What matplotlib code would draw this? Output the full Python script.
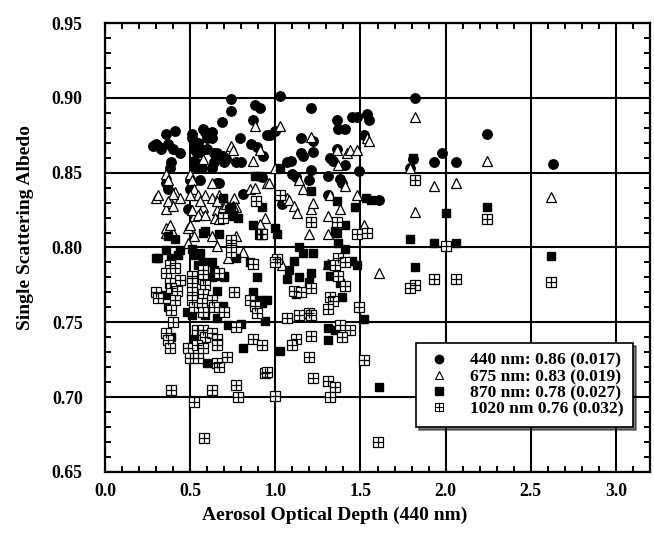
import numpy as np
import matplotlib
matplotlib.use("Agg")
import matplotlib.pyplot as plt
from matplotlib.ticker import MultipleLocator, FormatStrFormatter
from matplotlib.lines import Line2D

plt.rcParams['font.family'] = ['Liberation Serif', 'DejaVu Serif']
plt.rcParams['font.weight'] = 'bold'

# single scattering albedo vs. AOD(440) for each wavelength
pts440 = np.array([
    (0.28, .868), (0.30, .869), (0.31, .868), (0.33, .866), (0.36, .876), (0.41, .878), (0.37, .869),
    (0.40, .866), (0.44, .863), (0.39, .857), (0.38, .853), (0.36, .843), (0.37, .839), (0.51, .876),
    (0.51, .873), (0.52, .871), (0.545, .870), (0.575, .879), (0.59, .877), (0.60, .873), (0.63, .877),
    (0.63, .873), (0.52, .866), (0.54, .863), (0.57, .865), (0.60, .866), (0.64, .863), (0.66, .863),
    (0.69, .861), (0.69, .859), (0.70, .857), (0.71, .859), (0.52, .858), (0.53, .853), (0.56, .856),
    (0.57, .853), (0.63, .853), (0.64, .857), (0.686, .884), (0.74, .899), (0.74, .891), (0.79, .873),
    (0.77, .857), (0.80, .857), (0.56, .845), (0.50, .839), (0.50, .845), (0.66, .843), (0.67, .843),
    (0.49, .826), (0.81, .836), (0.87, .885), (0.88, .895), (0.91, .893), (0.86, .869), (0.89, .867),
    (0.93, .861), (0.95, .875), (0.92, .847), (0.97, .875), (1.00, .878), (1.03, .901), (1.04, .829),
    (1.07, .857), (1.09, .858), (1.10, .849), (1.12, .847), (1.15, .873), (1.15, .863), (1.16, .861),
    (1.20, .845), (1.21, .893), (1.21, .852), (1.22, .871), (1.22, .864), (1.31, .835), (1.31, .848),
    (1.32, .860), (1.34, .858), (1.365, .885), (1.365, .866), (1.37, .879), (1.38, .846), (1.39, .843),
    (1.41, .879), (1.41, .855), (1.45, .887), (1.48, .887), (1.49, .851), (1.52, .875), (1.54, .889),
    (1.55, .885), (1.61, .832), (1.79, .853), (1.81, .859), (1.82, .900), (1.93, .857), (1.98, .863),
    (2.06, .857), (2.24, .876), (2.63, .856),
])

pts675 = np.array([
    (0.30, .833), (0.36, .849), (0.37, .845), (0.41, .837), (0.44, .833), (0.39, .830), (0.36, .826),
    (0.50, .849), (0.51, .845), (0.52, .839), (0.545, .835), (0.59, .835), (0.63, .833), (0.63, .843),
    (0.575, .859), (0.74, .868), (0.75, .865), (0.76, .833), (0.85, .839), (0.88, .840), (0.88, .881),
    (0.91, .865), (0.87, .858), (0.95, .843), (0.575, .827), (0.56, .823), (0.52, .821), (0.66, .825),
    (0.69, .827), (0.77, .827), (0.94, .820), (0.49, .813), (0.36, .810), (0.40, .810), (0.52, .808),
    (0.63, .808), (0.77, .808), (0.91, .816), (0.49, .803), (0.66, .801), (0.81, .797), (0.72, .793),
    (0.31, .835), (0.40, .836), (0.50, .835), (0.67, .835), (0.37, .831), (0.40, .828), (0.56, .831),
    (0.66, .831), (0.71, .829), (0.51, .825), (0.545, .822), (0.59, .822), (0.645, .820), (0.67, .819),
    (0.50, .815), (0.36, .813), (0.38, .815), (0.75, .828),
    (0.96, .843), (1.00, .853), (1.03, .881), (1.07, .833), (1.08, .832), (1.11, .828), (1.13, .823),
    (1.14, .845), (1.16, .839), (1.21, .874), (1.21, .826), (1.22, .830), (1.31, .821), (1.32, .835),
    (1.36, .865), (1.37, .855), (1.38, .826), (1.41, .841), (1.42, .863), (1.44, .865), (1.48, .865),
    (1.48, .835), (1.52, .815), (1.54, .873), (1.55, .871), (1.20, .809), (1.31, .809), (1.04, .788),
    (1.31, .789), (1.61, .783), (1.79, .853), (1.82, .887), (1.82, .824), (1.93, .841), (2.06, .843),
    (2.24, .858), (2.62, .834),
])

pts870 = np.array([
    (0.30, .793), (0.36, .798), (0.39, .793), (0.43, .795), (0.44, .798), (0.51, .799), (0.53, .795),
    (0.56, .796), (0.575, .790), (0.63, .790), (0.64, .785), (0.63, .780), (0.77, .793), (0.85, .790),
    (0.89, .780), (0.70, .780), (0.36, .768), (0.37, .760), (0.39, .758), (0.48, .757), (0.51, .755),
    (0.575, .761), (0.59, .755), (0.66, .771), (0.69, .761), (0.87, .770), (0.91, .765), (0.80, .749),
    (0.72, .748), (0.66, .753), (0.39, .740), (0.52, .739), (0.81, .733), (0.60, .723), (0.575, .810),
    (0.67, .809), (0.37, .808), (0.41, .806), (0.69, .833), (0.74, .827), (0.75, .821), (0.92, .827),
    (0.87, .815), (0.88, .848), (0.91, .848), (0.59, .811), (0.73, .826), (0.78, .820), (0.545, .788),
    (0.645, .781), (0.70, .781), (0.31, .793),
    (1.00, .813), (1.01, .809), (1.03, .853), (1.21, .838), (1.36, .831), (1.47, .827), (1.41, .815),
    (1.35, .811), (1.36, .810), (1.53, .833), (1.56, .832), (1.81, .860), (1.79, .806), (1.37, .803),
    (1.41, .799), (1.14, .800), (1.16, .796), (1.22, .796), (1.11, .791), (1.45, .791), (1.48, .788),
    (1.08, .785), (1.07, .779), (1.14, .780), (1.21, .783), (1.20, .777), (1.31, .788), (1.32, .781),
    (1.38, .776), (1.12, .769), (0.95, .765), (0.92, .763), (1.39, .767), (0.94, .751), (1.52, .752),
    (1.31, .746), (1.35, .745), (1.31, .738), (1.03, .731), (1.61, .707), (1.82, .787), (1.93, .803),
    (2.00, .823), (2.06, .803), (2.24, .827), (2.62, .794),
])

pts1020 = np.array([
    (0.38, .788), (0.36, .783), (0.41, .786), (0.51, .781), (0.51, .776), (0.575, .785), (0.575, .779),
    (0.59, .775), (0.44, .778), (0.38, .776), (0.39, .773), (0.30, .770), (0.31, .766), (0.42, .771),
    (0.41, .765), (0.51, .770), (0.51, .765), (0.52, .760), (0.575, .769), (0.57, .763), (0.575, .757),
    (0.63, .765), (0.64, .760), (0.70, .757), (0.67, .783), (0.74, .803), (0.74, .797), (0.87, .789),
    (0.76, .770), (0.85, .765), (0.88, .761), (0.89, .756), (0.91, .809), (0.39, .758), (0.40, .750),
    (0.36, .743), (0.37, .738), (0.38, .733), (0.49, .733), (0.50, .726), (0.545, .726), (0.54, .745),
    (0.575, .745), (0.59, .740), (0.54, .735), (0.575, .733), (0.63, .743), (0.66, .739), (0.655, .735),
    (0.715, .727), (0.66, .723), (0.67, .720), (0.77, .747), (0.87, .739), (0.92, .735), (0.94, .716),
    (0.39, .705), (0.63, .705), (0.52, .697), (0.77, .708), (0.78, .700), (0.58, .673), (0.885, .831),
    (0.915, .809), (0.69, .820), (0.74, .805),
    (1.03, .835), (1.82, .845), (1.21, .817), (1.365, .817), (1.48, .809), (1.54, .810), (0.92, .809),
    (1.01, .792), (1.00, .790), (1.37, .793), (1.35, .788), (1.41, .790), (1.37, .781), (1.41, .774),
    (1.11, .771), (1.15, .770), (1.21, .773), (1.32, .767), (1.34, .764), (1.31, .759), (1.49, .760),
    (1.20, .756), (1.21, .755), (1.07, .753), (1.14, .755), (1.38, .748), (1.44, .745), (1.39, .740),
    (1.12, .739), (1.10, .735), (1.21, .741), (1.20, .727), (1.52, .725), (0.95, .717), (1.22, .713),
    (1.31, .711), (1.35, .707), (1.32, .700), (1.00, .701), (1.60, .670), (1.82, .775), (1.79, .773),
    (1.93, .779), (2.00, .801), (2.06, .779), (2.24, .819), (2.62, .777),
])

labels = ['440 nm: 0.86 (0.017)', '675 nm: 0.83 (0.019)',
          '870 nm: 0.78 (0.027)', '1020 nm 0.76 (0.032)']

fig = plt.figure(figsize=(6.54, 5.36), dpi=100)
ax = fig.add_axes([105 / 654, 1 - 472 / 536, 545 / 654, 449 / 536])

ax.plot(pts440[:, 0], pts440[:, 1], 'o', ms=6.8, mfc='black', mec='black', zorder=3)
ax.plot(pts675[:, 0], pts675[:, 1], '^', ms=7.2, mfc='white', mec='black', mew=0.9, zorder=4)
ax.plot(pts870[:, 0], pts870[:, 1], 's', ms=6.2, mfc='black', mec='black', zorder=5)
ax.plot(pts1020[:, 0], pts1020[:, 1], 's', ms=6.5, mfc='white', mec='black', mew=0.9, zorder=6)
ax.plot(pts1020[:, 0], pts1020[:, 1], '+', ms=6.5, mec='black', mew=0.9, zorder=7)

ax.set_xlim(0, 3.2)
ax.set_ylim(0.65, 0.95)
ax.xaxis.set_major_locator(MultipleLocator(0.5))
ax.xaxis.set_minor_locator(MultipleLocator(0.1))
ax.yaxis.set_major_locator(MultipleLocator(0.05))
ax.yaxis.set_minor_locator(MultipleLocator(0.01))
ax.xaxis.set_major_formatter(FormatStrFormatter('%.1f'))
ax.yaxis.set_major_formatter(FormatStrFormatter('%.2f'))

ax.grid(True, which='major', color='black', linewidth=1.5, zorder=1)
ax.set_axisbelow(True)
for s in ax.spines.values():
    s.set_linewidth(1.6)
ax.tick_params(which='both', direction='in', top=True, right=True, width=1.4)
ax.tick_params(which='major', length=7, labelsize=12.8)
ax.tick_params(which='minor', length=4)
ax.tick_params(axis='y', which='major', pad=16)
ax.tick_params(axis='x', which='major', pad=8)
for t in ax.get_xticklabels() + ax.get_yticklabels():
    t.set_fontweight('bold')

ax.set_xlabel('Aerosol Optical Depth (440 nm)', fontsize=14, fontweight='bold', x=0.422, labelpad=5)
ax.set_ylabel('Single Scattering Albedo', fontsize=14, fontweight='bold', y=0.545, labelpad=13)

handles = [
    Line2D([], [], ls='none', marker='o', ms=6, mfc='black', mec='black'),
    Line2D([], [], ls='none', marker='^', ms=6, mfc='white', mec='black', mew=0.8),
    Line2D([], [], ls='none', marker='s', ms=6, mfc='black', mec='black'),
    (Line2D([], [], ls='none', marker='s', ms=6, mfc='white', mec='black', mew=0.8),
     Line2D([], [], ls='none', marker='+', ms=6, mec='black', mew=0.8)),
]
leg = ax.legend(handles, labels, loc='lower right', bbox_to_anchor=(0.969, 0.10),
                borderaxespad=0, prop={'size': 12.6, 'weight': 'bold'}, frameon=True, fancybox=False,
                framealpha=1, edgecolor='black', shadow={'color': 'black'},
                handletextpad=1.0, labelspacing=0.0, borderpad=0.55, handlelength=1.5)
leg.get_frame().set_linewidth(1.2)
leg.set_zorder(10)

fig.savefig('out.png', dpi=100)
